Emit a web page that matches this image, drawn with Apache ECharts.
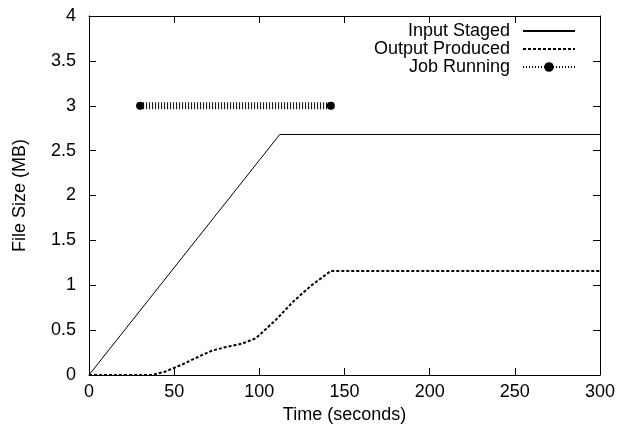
<!DOCTYPE html>
<html>
<head>
<meta charset="utf-8">
<script src="https://cdn.jsdelivr.net/npm/echarts@6/dist/echarts.min.js"></script>
<style>
html, body { margin: 0; padding: 0; background: #fff; }
#chartDiv { width: 624px; height: 434px; }
</style>
</head>
<body>
<div id="chartDiv"></div>
<script>
// values
var inputTimes = [0, 112, 300];
var inputSizes = [0, 2.68, 2.68];

var outputTimes = [0, 37, 45, 55, 65, 72, 80, 90, 98, 110, 120, 130, 142, 300];
var outputSizes = [0, 0, 0.04, 0.12, 0.21, 0.27, 0.31, 0.35, 0.41, 0.62, 0.82, 0.99, 1.16, 1.16];

var jobTimes = [30, 142];
var jobSizes = [3, 3];

function pairs(xs, ys) {
    return xs.map(function (x, i) {
        return [x, ys[i]];
    });
}

var font = 'Liberation Sans, Arial, sans-serif';

// every side of the box gets a line and inward ticks, like the original
function frameAxis(extra) {
    var ax = {
        type: 'value',
        splitLine: { show: false },
        axisLine: { show: true, onZero: false, lineStyle: { color: '#000', width: 1 } },
        axisTick: { show: true, inside: true, length: 7, lineStyle: { color: '#000', width: 1 } },
        axisLabel: { show: false }
    };
    for (var k in extra) ax[k] = extra[k];
    return ax;
}

var myChart = echarts.init(document.getElementById('chartDiv'));
myChart.setOption({
    animation: false,
    backgroundColor: '#fff',
    grid: {
        left: 89,
        right: 24,
        top: 16,
        bottom: 59
    },
    legend: {
        orient: 'vertical',
        right: 43,
        top: 17,
        align: 'right',
        itemWidth: 52,
        itemHeight: 12,
        itemGap: 0,
        textStyle: { fontFamily: font, fontSize: 18, color: '#000', padding: [0, 8, 0, 0] },
        data: [
            { name: 'Input Staged', itemStyle: { opacity: 0 } },
            { name: 'Output Produced', itemStyle: { opacity: 0 } },
            { name: 'Job Running' }
        ]
    },
    xAxis: [
        frameAxis({
            position: 'bottom',
            min: 0, max: 300, interval: 50,
            name: 'Time (seconds)',
            nameLocation: 'middle',
            nameGap: 27,
            nameTextStyle: { fontFamily: font, fontSize: 18, color: '#000' },
            axisLabel: { show: true, margin: 8, fontFamily: font, fontSize: 18, color: '#000' }
        }),
        frameAxis({ position: 'top', min: 0, max: 300, interval: 50 })
    ],
    yAxis: [
        frameAxis({
            position: 'left',
            min: 0, max: 4, interval: 0.5,
            name: 'File Size (MB)',
            nameLocation: 'middle',
            nameGap: 60,
            nameTextStyle: { fontFamily: font, fontSize: 18, color: '#000' },
            axisLabel: { show: true, margin: 13, fontFamily: font, fontSize: 18, color: '#000' }
        }),
        frameAxis({ position: 'right', min: 0, max: 4, interval: 0.5 })
    ],
    series: [
        {
            name: 'Input Staged',
            type: 'line',
            symbol: 'none',
            lineStyle: { color: '#000', width: 1 },
            itemStyle: { color: '#000' },
            data: pairs(inputTimes, inputSizes)
        },
        {
            name: 'Output Produced',
            type: 'line',
            symbol: 'none',
            lineStyle: { color: '#000', width: 2, type: [3, 2] },
            itemStyle: { color: '#000' },
            data: pairs(outputTimes, outputSizes)
        },
        {
            name: 'Job Running',
            type: 'line',
            symbol: 'circle',
            symbolSize: 8,
            lineStyle: { color: '#000', width: 7, type: [1, 2] },
            itemStyle: { color: '#000' },
            data: pairs(jobTimes, jobSizes)
        }
    ]
});
</script>
</body>
</html>
